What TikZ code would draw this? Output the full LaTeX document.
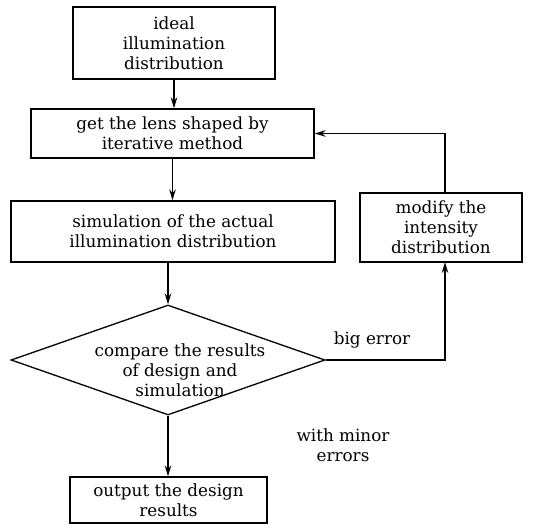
\documentclass[tikz,border=0pt]{standalone}
\usepackage{fontspec}
\setmainfont{DejaVu Serif}
\usetikzlibrary{shapes.geometric,arrows.meta}
\begin{document}
\begin{tikzpicture}[x=1pt,y=-1pt,
  txt/.style={font=\fontsize{16.8}{20}\selectfont, align=center, inner sep=0pt},
  stepbox/.style={draw, line width=1.3pt, txt, minimum width=#1},
  conn/.style={line width=1.3pt, -{Stealth[length=11pt,width=6.5pt]}},
  plain/.style={line width=1.3pt}]
\useasboundingbox (0,0) rectangle (554,524);
\node[stepbox=202pt, minimum height=72pt] (b1) at (174,43) {ideal\\illumination\\distribution};
\node[stepbox=283pt, minimum height=49pt] (b2) at (172.5,133.5) {get the lens shaped by\\iterative method};
\node[stepbox=324pt, minimum height=61pt] (b3) at (173,231.5) {simulation of the actual\\illumination distribution};
\node[stepbox=162pt, minimum height=69pt] (b4) at (441,227.5) {modify the\\intensity\\distribution};
\node[draw, line width=1.3pt, diamond, minimum width=314pt, minimum height=110pt, inner sep=0pt] (dm) at (168,360) {};
\node[txt] (dmt) at (180,370) {compare the results\\of design and\\simulation};
\node[stepbox=197pt, minimum height=46pt] (b5) at (168.5,500) {output the design\\results};
\node[txt] (lbig) at (372,340) {big error};
\node[txt] (lminor) at (343,445) {with minor\\errors};
\coordinate (fb) at (445,262);
\coordinate (ft) at (445,133.5);
\draw[conn] (b1.south) -- (b1.south |- b2.north);
\draw[conn] (b2.south) -- (b2.south |- b3.north);
\draw[conn] (dm.north |- b3.south) -- (dm.north);
\draw[conn] (dm.south) -- (dm.south |- b5.north);
\draw[conn] (dm.east) -| (fb);
\draw[conn] (fb |- b4.north) -- (ft) -- (b2.east);
\end{tikzpicture}
\end{document}
